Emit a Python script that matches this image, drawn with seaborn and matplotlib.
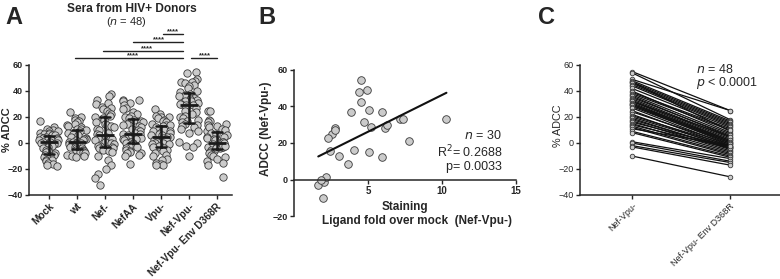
import numpy as np
import pandas as pd
import matplotlib
matplotlib.use("Agg")
import matplotlib.pyplot as plt
import seaborn as sns

sns.set_theme(style="ticks")
plt.rcParams['font.family'] = ['Liberation Sans', 'DejaVu Sans']
np.random.seed(7)  # reproducible jitter of the strip plot

# ---------------- data ----------------
groups = ["Mock", "wt", "Nef-", "NefAA", "Vpu-", "Nef-Vpu-", "Nef-Vpu- Env D368R"]

mock = [17, 12, 11, 10, 9, 9, 8, 8, 7, 7, 6, 6,
        5, 5, 4, 4, 4, 3, 3, 2, 2, 2, 1, 1,
        0, 0, -1, -1, -2, -3, -4, -5, -5, -6, -7, -8,
        -9, -9, -10, -11, -12, -13, -13, -14, -15, -16, -17, -18]
wt = [24, 20, 19, 18, 17, 16, 15, 14, 13, 12, 11, 11,
      10, 9, 8, 7, 6, 5, 4, 3, 3, 2, 2, 1,
      1, 0, 0, -1, -1, -2, -2, -3, -3, -3, -4, -4,
      -5, -5, -5, -6, -6, -7, -7, -8, -9, -10, -10, -11]
nef = [38, 36, 33, 31, 30, 28, 27, 26, 25, 23, 22, 21,
       20, 19, 18, 16, 15, 14, 13, 12, 11, 10, 8, 7,
       6, 5, 4, 3, 3, 2, 1, 0, -1, -2, -2, -3,
       -4, -4, -5, -6, -7, -10, -13, -17, -20, -24, -27, -32]
nefaa = [33, 33, 32, 31, 29, 27, 26, 24, 22, 21, 20, 19,
         18, 17, 16, 15, 14, 13, 12, 11, 10, 9, 8, 7,
         7, 6, 5, 4, 4, 3, 3, 2, 1, 1, 0, 0,
         -1, -2, -3, -4, -5, -6, -7, -8, -8, -9, -10, -16]
vpu = [26, 22, 21, 20, 20, 19, 18, 17, 16, 15, 14, 14,
       13, 12, 11, 11, 10, 9, 9, 8, 7, 6, 6, 5,
       5, 4, 3, 2, 1, 0, 0, -1, -1, -2, -2, -3,
       -4, -5, -6, -8, -9, -10, -12, -13, -15, -16, -17, -17]
# paired per donor (same order) for panel C
nefvpu = [55, 54, 49, 48, 47, 47, 46, 45, 44, 42, 40, 39,
          38, 37, 36, 35, 34, 33, 32, 32, 31, 30, 30, 29,
          29, 28, 27, 25, 24, 22, 21, 20, 19, 18, 17, 16,
          15, 14, 13, 12, 11, 9, 8, 1, 0, -2, -3, -10]
envd368r = [25, 18, 25, 17, 16, 9, 15, 14, 13, 12, 8, 11,
            10, 7, 5, 6, 4, 3, 2, 5, 1, 0, 2, 1,
            -1, 0, -2, -3, -1, -4, -2, -3, -5, -4, -6, -3,
            -7, -4, -8, -9, -2, -10, -11, -12, -14, -15, -17, -26]

# panel B: staining fold vs ADCC (n = 30)
stain = [4.53, 4.40, 4.95, 4.53, 3.85, 5.09, 5.95, 4.75, 5.18, 6.13,
         6.26, 7.16, 7.34, 10.30, 7.80, 2.75, 2.60, 2.27, 2.43, 3.07,
         4.08, 3.67, 5.09, 5.95, 1.64, 2.00, 2.14, 1.94, 2.80, 1.82]
adcc = [54.5, 47.7, 48.8, 42.2, 37.0, 38.1, 37.0, 31.4, 28.6, 28.4,
        30.1, 33.2, 33.0, 33.4, 21.3, 28.1, 24.8, 22.6, 15.6, 13.0,
        16.0, 8.6, 15.0, 12.5, -2.8, -1.6, 1.1, -9.9, 27.0, -0.5]

# significance comparisons (group index pairs) and labels
sig_start = [4, 3, 2, 1, 5]
sig_end = [5, 5, 5, 5, 6]
sig_text = ["****"] * 5

# --------------- figure ----------------
fig = plt.figure(figsize=(7.8, 2.79), dpi=100)
fill = "#cbcbcb"
edge = "#3a3a3a"

tick_kw = dict(labelsize=6.5, width=1.0, length=3, pad=1.5)

# ---- Panel A ----
axA = fig.add_axes([29/780, (279-195)/279, 203/780, 130/279])
vals = [mock, wt, nef, nefaa, vpu, nefvpu, envd368r]
dfA = pd.DataFrame({
    "group": np.repeat(groups, [len(v) for v in vals]),
    "ADCC": np.concatenate(vals).astype(float),
})
sns.stripplot(data=dfA, x="group", y="ADCC", order=groups, ax=axA, size=5.3,
              jitter=0.36, color=fill, edgecolor=edge, linewidth=0.6, zorder=2)
sns.pointplot(data=dfA, x="group", y="ADCC", order=groups, ax=axA,
              estimator="median", errorbar=("pi", 50), linestyle="none",
              marker="_", markersize=13, markeredgewidth=2.0, color="#1a1a1a",
              capsize=0.35, err_kws={"linewidth": 1.8}, zorder=5)
axA.set_xlim(-0.7, 6.55)
axA.set_ylim(-40, 60)
axA.set_yticks([-40, -20, 0, 20, 40, 60])
axA.set_xlabel("")
axA.set_ylabel("% ADCC", fontsize=8, fontweight="bold")
axA.yaxis.set_label_coords(-0.085, 0.5)
axA.tick_params(**tick_kw)
for lab in axA.get_yticklabels():
    lab.set_fontweight("bold")
axA.set_xticks(range(len(groups)))
axA.set_xticklabels(groups, rotation=45, ha="right", rotation_mode="anchor",
                    fontweight="bold", fontsize=7.3)
sns.despine(ax=axA)
for s in ["left", "bottom"]:
    axA.spines[s].set_linewidth(1.1)

# brackets (layout: y level, line extents, star centre, in data units)
sig_y = [83.6, 77.5, 71.0, 65.6, 65.6]
line_x0 = [4.07, 3.0, 1.96, 0.96, 5.07]
line_x1 = [4.79, 4.79, 4.79, 4.79, 6.0]
star_x = [4.43, 3.93, 3.5, 3.0, 5.57]
for i in range(len(sig_text)):
    axA.plot([line_x0[i], line_x1[i]], [sig_y[i], sig_y[i]], color="#222",
             lw=1.0, clip_on=False)
    axA.text(star_x[i], sig_y[i] - 0.8, sig_text[i], ha="center", va="bottom",
             fontsize=5.5, fontweight="bold", clip_on=False)
fig.text(132/780, 1 - 9/279, "Sera from HIV+ Donors", ha="center", va="center",
         fontsize=8.6, fontweight="bold")
fig.text(126/780, 1 - 22/279, "($n$ = 48)", ha="center", va="center", fontsize=8)

# ---- Panel B ----
axB = fig.add_axes([294/780, (279-216)/279, 222/780, 146/279])
dfB = pd.DataFrame({"stain": stain, "adcc": adcc})
sns.regplot(data=dfB, x="stain", y="adcc", ax=axB, ci=None, truncate=True,
            scatter_kws={"s": 30, "color": fill, "edgecolor": edge,
                         "linewidths": 0.6, "alpha": 1},
            line_kws={"color": "#111", "lw": 1.5})
axB.set_xlim(0, 15)
axB.set_ylim(-20, 60)
axB.set_xticks([5, 10, 15])
axB.set_yticks([-20, 0, 20, 40, 60])
axB.spines["bottom"].set_position(("data", 0))
sns.despine(ax=axB)
for s in ["left", "bottom"]:
    axB.spines[s].set_linewidth(1.1)
axB.tick_params(**tick_kw)
axB.tick_params(axis="x", labelsize=7)
for lab in axB.get_yticklabels() + axB.get_xticklabels():
    lab.set_fontweight("bold")
axB.set_xlabel("")
axB.set_ylabel("ADCC (Nef-Vpu-)", fontsize=8.5, fontweight="bold")
axB.yaxis.set_label_coords(-0.1, 0.6)
fig.text(405/780, 1 - 207/279, "Staining", ha="center", va="center",
         fontsize=8.5, fontweight="bold")
fig.text(417/780, 1 - 221/279, "Ligand fold over mock  (Nef-Vpu-)", ha="center",
         va="center", fontsize=8.5, fontweight="bold")
fig.text(502/780, 1 - 151/279, "$n$ = 30\nR$^2$= 0.2688\np= 0.0033", ha="right",
         va="center", fontsize=9, linespacing=1.15, multialignment="right")

# ---- Panel C ----
axC = fig.add_axes([580/780, (279-195)/279, 200/780, 130/279])
condC = ["Nef-Vpu-", "Nef-Vpu- Env D368R"]
dfC = pd.DataFrame({
    "donor": np.tile(np.arange(len(nefvpu)), 2),
    "cond": np.repeat([0, 1], len(nefvpu)),
    "ADCC": np.array(nefvpu + envd368r, dtype=float),
})
sns.lineplot(data=dfC, x="cond", y="ADCC", units="donor", estimator=None, ax=axC,
             color="#111", lw=0.9, marker="o", markersize=3.3,
             markerfacecolor=fill, markeredgecolor=edge, markeredgewidth=0.6)
axC.set_xlim(-0.53, 1.51)
axC.set_ylim(-40, 60)
axC.set_yticks([-40, -20, 0, 20, 40, 60])
axC.set_xticks([0, 1])
axC.set_xticklabels(condC, rotation=45, ha="right", rotation_mode="anchor",
                    fontsize=7.8)
axC.set_xlabel("")
axC.set_ylabel("% ADCC", fontsize=7.8)
axC.yaxis.set_label_coords(-0.085, 0.53)
axC.tick_params(**tick_kw)
sns.despine(ax=axC)
for s in ["left", "bottom"]:
    axC.spines[s].set_linewidth(1.1)
fig.text(696/780, 1 - 77/279, "$n$ = 48\n$p$ < 0.0001", ha="left", va="center",
         fontsize=9, linespacing=0.95)

# panel letters
for x, t in [(5, "A"), (258, "B"), (538, "C")]:
    fig.text(x/780, 1 - 18/279, t, ha="left", va="center", fontsize=17,
             fontweight="bold")

fig.savefig("out.png", dpi=100, facecolor="white")
